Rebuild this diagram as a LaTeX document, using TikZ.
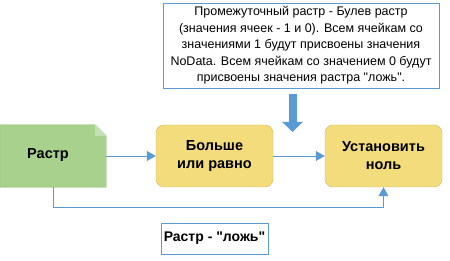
\documentclass[tikz,border=0pt]{standalone}
\usepackage{fontspec}
\setmainfont{Liberation Sans}
\usepackage{tikz}
\usetikzlibrary{arrows.meta}
\definecolor{rgreen}{HTML}{A9D18E}
\definecolor{rgreenl}{HTML}{C5E0B4}
\definecolor{rgreend}{HTML}{82B366}
\definecolor{tyellow}{HTML}{F2DC7C}
\definecolor{tyellowd}{HTML}{D6B656}
\definecolor{lblue}{HTML}{5B9BD5}
\tikzset{
    tool/.style={fill=tyellow,draw=tyellowd,rounded corners=8pt,minimum width=117pt,
        minimum height=62pt,align=center,font=\fontsize{14.5}{18}\selectfont\bfseries},
    conn/.style={draw=lblue,line width=0.75pt,-{Triangle[width=10pt,length=9pt]}},
    textbox/.style={draw=lblue,fill=white,align=center,inner sep=1pt}
}
\begin{document}
\begin{tikzpicture}[x=1pt,y=-1pt]
    \useasboundingbox(0,0) rectangle (450,261);
    \node at(53,156)(rastr)[minimum width=106pt,minimum height=62pt,inner sep=0pt]{};
    \draw[fill=rgreen,draw=rgreend](rastr.south west) -- (rastr.north west) -- ([xshift=-11pt]rastr.north east)
        -- ([yshift=-11pt]rastr.north east) -- (rastr.south east) -- cycle;
    \fill[rgreenl]([xshift=-11pt]rastr.north east) -- ([xshift=-11pt,yshift=-11pt]rastr.north east)
        -- ([yshift=-11pt]rastr.north east) -- cycle;
    \node at(48,155)[font=\fontsize{14.5}{18}\selectfont\bfseries]{Растр};
    \node at(214.5,156)(ge)[tool]{Больше\\или равно};
    \node at(383.5,156)(setnull)[tool]{Установить\\ноль};
    \node at(301,45.5)(note)[textbox,minimum width=276pt,minimum height=85pt,
        font=\fontsize{12.5}{16.5}\selectfont]{\raisebox{-3pt}{\parbox{270pt}{\centering
        Промежуточный растр - Булев растр\\(значения ячеек - 1 и 0). Всем ячейкам со\\значениями 1 будут присвоены значения\\NoData. Всем ячейкам со значением 0 будут\\присвоены значения растра \textquotedbl ложь\textquotedbl.}}};
    \node at(214.5,238.5)(false)[textbox,minimum width=107pt,minimum height=31pt,
        font=\fontsize{14}{16}\selectfont\bfseries]{Растр - \textquotedbl ложь\textquotedbl};
    \draw[conn](rastr) -- (ge);
    \draw[conn](ge) -- (setnull);
    \draw[conn](rastr.south) -- ++(0,20) -| (setnull.south);
    % big arrow from the note
    \coordinate(bt) at(292.5,94);
    \coordinate(bh) at(292.5,132);
    \draw[draw=lblue,line width=8pt,-{Triangle[width=20pt,length=10pt]}](bt) -- (bh);
\end{tikzpicture}
\end{document}
